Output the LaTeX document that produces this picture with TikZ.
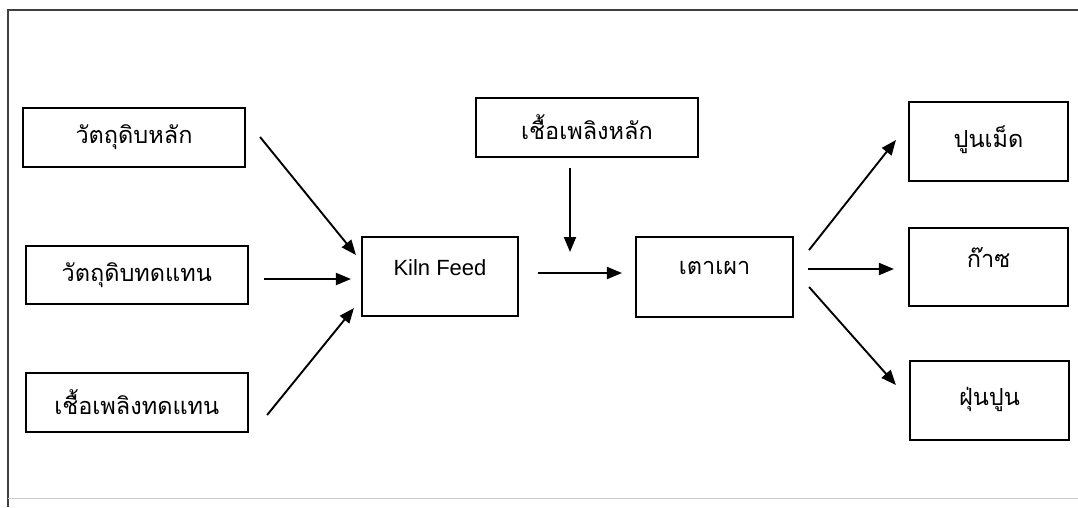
\documentclass[tikz,border=0pt]{standalone}
\usepackage{fontspec}
\setmainfont{Liberation Sans}
\newfontfamily\thaifont[Script=Thai]{Loma}
\usetikzlibrary{arrows.meta}
\begin{document}
\begin{tikzpicture}[x=1pt,y=-1pt,
  box/.style={draw, line width=2.1pt, inner sep=0pt, font=\thaifont\fontsize{23.5}{27}\selectfont},
  latinbox/.style={box, font=\fontsize{22}{26}\selectfont},
  arr/.style={line width=1.9pt, -{Triangle[length=15pt,width=12pt]}}]
\useasboundingbox (0,0) rectangle (1078,507);
\draw[line width=1.3pt, black!75] (8,507) -- (8,10) -- (1078,10);
\draw[line width=0.8pt, black!20] (8,498) -- (1078,498);

\node[box, minimum width=222pt, minimum height=59pt] (rm) at (134,137.5) {วัตถุดิบหลัก};
\node[box, minimum width=222.5pt, minimum height=58pt] (rs) at (136.8,275) {วัตถุดิบทดแทน};
\node[box, minimum width=222.5pt, minimum height=59pt] (fs) at (136.8,402.5) {เชื้อเพลิงทดแทน};
\node[latinbox, minimum width=156pt, minimum height=79pt, text depth=18pt] (kf) at (440,276.5) {Kiln Feed};
\node[box, minimum width=222pt, minimum height=59pt] (mf) at (587,127.5) {เชื้อเพลิงหลัก};
\node[box, minimum width=157pt, minimum height=80pt, text depth=18pt] (kiln) at (714.5,277) {เตาเผา};
\node[box, minimum width=159pt, minimum height=79pt, text depth=10pt] (cl) at (988.5,141.5) {ปูนเม็ด};
\node[box, minimum width=159pt, minimum height=78pt, text depth=20pt] (gas) at (988.5,267) {ก๊าซ};
\node[box, minimum width=159pt, minimum height=79pt, text depth=8pt] (dust) at (989.5,400.5) {ฝุ่นปูน};

\coordinate (fuelin) at (570,252);

\draw[arr] ([xshift=14pt,yshift=0.5pt]rm.east) -- ([xshift=-5pt,yshift=21.5pt]kf.west);
\draw[arr] ([xshift=15pt,yshift=-4pt]rs.east) -- ([xshift=-10pt,yshift=-2.5pt]kf.west);
\draw[arr] ([xshift=18pt,yshift=-12.5pt]fs.east) -- ([xshift=-7pt,yshift=9pt]kf.south west);
\draw[arr] ([xshift=19pt,yshift=3.5pt]kf.east) -- ([xshift=-13pt,yshift=4pt]kiln.west);
\draw[arr] ([xshift=-17pt,yshift=-10pt]mf.south) -- (fuelin);
\draw[arr] ([xshift=15pt,yshift=27pt]kiln.east) -- ([xshift=-12pt,yshift=1.5pt]cl.west);
\draw[arr] ([xshift=14pt,yshift=8pt]kiln.east) -- ([xshift=-14pt,yshift=-2pt]gas.west);
\draw[arr] ([xshift=15pt,yshift=-10pt]kiln.east) -- ([xshift=-13pt,yshift=15.5pt]dust.west);
\end{tikzpicture}
\end{document}
